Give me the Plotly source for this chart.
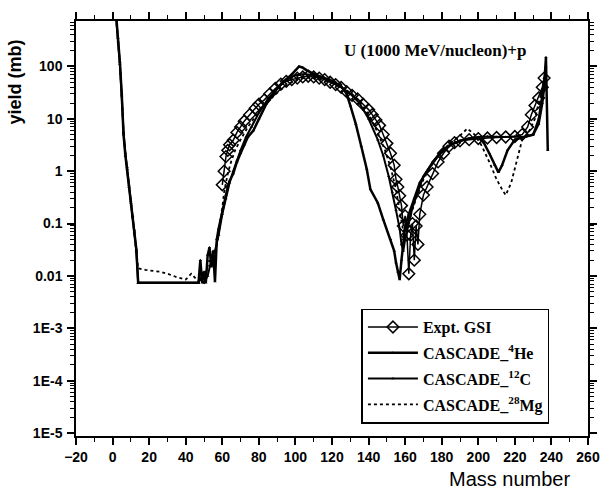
import plotly.graph_objects as go

# ---------------- data ----------------
expt_mass = [60, 61, 62, 63, 64, 66, 68, 70, 72, 75, 78, 80, 83, 86, 89, 92, 95, 98, 101, 104,
             107, 110, 113, 116, 119, 122, 125, 128, 131, 134, 137, 140, 142, 144, 146, 148,
             150, 152, 154, 155, 156, 157, 158, 159, 160, 161, 162, 163, 164, 165, 166, 167,
             168, 170, 172, 175, 178, 181, 184, 187, 190, 195, 200, 205, 210, 215, 220, 224,
             227, 229, 231, 233, 235, 236]
expt_yield = [0.55, 1.0, 1.9, 2.5, 3.2, 3.9, 5.5, 7, 9, 12, 16, 19, 23, 30, 38, 46, 52, 56, 60, 63,
              65, 63, 60, 56, 50, 45, 40, 33, 28, 24, 19, 15, 12, 9.5, 7.5, 5,
              3.4, 2.2, 1.3, 0.7, 0.5, 0.34, 0.22, 0.09, 0.14, 0.06, 0.011, 0.06, 0.1, 0.02, 0.09, 0.04,
              0.15, 0.35, 0.5, 0.9, 1.5, 2.2, 3.0, 3.5, 3.8, 4.0, 4.2, 4.3, 4.4, 4.5, 4.6, 5,
              7, 12, 18, 25, 40, 60]

he_mass = [2, 3, 4, 5, 6, 7, 8, 9, 10, 11, 12, 13, 14, 47, 48, 49, 50, 51, 52, 53, 54, 55, 56,
           57, 58, 59, 60, 61, 62, 63, 64, 66, 68, 70, 72, 74, 77, 80, 84, 89, 93, 97, 100, 102,
           104, 106, 110, 115, 120, 125, 128, 130, 133, 136, 139, 141, 145, 148, 152, 154, 155,
           156, 157, 158, 159, 160, 162, 165, 168, 172, 176, 180, 185, 190, 195, 200, 203, 206,
           209, 211, 213, 216, 220, 225, 230, 233, 235, 236, 237, 238]
he_yield = [900, 350, 120, 30, 5, 2.0, 1.1, 0.5, 0.25, 0.13, 0.07, 0.032, 0.0074, 0.0074, 0.02,
            0.0074, 0.012, 0.0074, 0.025, 0.035, 0.015, 0.03, 0.0078,
            0.05, 0.08, 0.12, 0.18, 0.25, 0.35, 0.5, 0.65, 0.9, 1.5, 2.2, 3.2, 4.5, 6, 10, 19, 34,
            50, 65, 85, 100,
            95, 85, 72, 62, 53, 42, 30, 18, 8, 3, 1.1, 0.45, 0.25, 0.12, 0.05, 0.03, 0.018,
            0.012, 0.0085, 0.02, 0.05, 0.09, 0.15, 0.3, 0.6, 1.0, 1.6, 2.3, 3.2, 3.8, 4.2, 4.4,
            3.5, 2.2, 1.3, 0.95, 1.3, 2.5, 4, 4.5, 5, 8, 20, 40, 150, 2.5]

c_mass = [2, 3, 4, 5, 6, 7, 8, 9, 10, 11, 12, 13, 14, 47, 48, 50, 52, 54, 56, 58, 60, 62, 64,
          66, 68, 70, 73, 76, 80, 85, 90, 95, 100, 105, 110, 115, 120, 125, 130, 135, 140, 145,
          148, 151, 153, 155, 157, 158, 159, 160, 162, 164, 167, 170, 175, 180, 185, 190, 195,
          200, 205, 210, 215, 220, 225, 230, 233, 235, 236, 237]
c_yield = [800, 300, 110, 28, 5.5, 2.2, 1.2, 0.55, 0.27, 0.14, 0.075, 0.03, 0.0074, 0.0074, 0.009,
           0.0074, 0.01, 0.02, 0.03, 0.06, 0.15, 0.3, 0.6,
           1.0, 1.6, 2.5, 4.5, 7, 13, 24, 38, 55, 68, 72, 68, 60, 50, 40, 30, 20, 10, 4,
           2, 0.8, 0.4, 0.18, 0.08, 0.04, 0.03, 0.05, 0.1, 0.2, 0.4, 0.8, 1.5, 2.5, 3.3, 3.8, 4.2,
           4.5, 4.6, 4.5, 4.5, 4.6, 4.5, 5, 10, 30, 60, 100]

mg_mass = [2, 3, 4, 5, 6, 7, 8, 9, 10, 11, 12, 13, 14, 18, 22, 26, 30, 35, 40, 43, 47, 49, 51,
           53, 55, 57, 59, 61, 63, 65, 67, 70, 74, 78, 82, 87, 92, 97, 102, 106, 110, 115, 120,
           125, 130, 135, 140, 145, 149, 152, 155, 157, 159, 161, 163, 166, 170, 175, 180, 185,
           190, 194, 198, 202, 206, 210, 213, 215, 218, 221, 224, 228, 231, 233, 235, 236]
mg_yield = [850, 320, 115, 29, 5.2, 2.1, 1.15, 0.52, 0.26, 0.13, 0.072, 0.03, 0.014, 0.013, 0.0125,
            0.012, 0.011, 0.0095, 0.0085, 0.011, 0.0078, 0.009, 0.012,
            0.02, 0.015, 0.04, 0.1, 0.4, 0.9, 1.6, 2.5, 4, 7, 11, 17, 25, 36, 48, 58, 62, 60, 55,
            48, 40, 32, 22, 12, 5.5, 2.5, 1.2, 0.45, 0.18, 0.07, 0.09, 0.15, 0.3, 0.7, 1.4, 2.4,
            3.5, 4.8, 6.5, 5, 3, 1.5, 0.7, 0.45, 0.35, 0.6, 1.5, 4, 6, 10, 20, 35, 50]

y_tick_vals = [1e-5, 1e-4, 1e-3, 0.01, 0.1, 1, 10, 100]
y_tick_text = ["1E-5", "1E-4", "1E-3", "0.01", "0.1", "1", "10", "100"]
x_tick_vals = list(range(-20, 261, 20))

# ---------------- figure ----------------
fig = go.Figure()

fig.add_trace(go.Scatter(
    x=expt_mass, y=expt_yield, name="Expt. GSI", mode="lines+markers",
    line=dict(color="black", width=1.5),
    marker=dict(symbol="diamond-open", size=9, color="black", line=dict(width=1.5)),
    legendgroup="a"))
fig.add_trace(go.Scatter(
    x=he_mass, y=he_yield, name="CASCADE_<sup>4</sup>He", mode="lines+markers",
    line=dict(color="black", width=2.5),
    marker=dict(symbol="triangle-up", size=3, color="black"),
    legendgroup="b"))
fig.add_trace(go.Scatter(
    x=c_mass, y=c_yield, name="CASCADE_<sup>12</sup>C", mode="lines+markers",
    line=dict(color="black", width=2.0),
    marker=dict(symbol="triangle-up", size=3, color="black"),
    legendgroup="c"))
fig.add_trace(go.Scatter(
    x=mg_mass, y=mg_yield, name="CASCADE_<sup>28</sup>Mg", mode="lines",
    line=dict(color="black", width=1.8, dash="dot"),
    legendgroup="d"))

tickfont = dict(family="Liberation Sans, Arial", size=14, color="black", weight="bold")

y_minor = []
for e in range(-5, 3):
    for m in range(2, 10):
        v = m * 10 ** e
        if v < 740:
            y_minor.append(v)

fig.update_xaxes(
    range=[-20, 260], tickvals=x_tick_vals, ticks="outside", ticklen=7, tickwidth=1.5,
    tickcolor="black", showline=True, linewidth=1.5, linecolor="black", mirror="ticks",
    showgrid=False, zeroline=False, tickfont=tickfont,
    minor=dict(dtick=10, tick0=-20, ticks="outside", ticklen=4, tickwidth=1.2, tickcolor="black"))
fig.update_yaxes(
    type="log", range=[-5.057, 2.868], tickvals=y_tick_vals, ticktext=y_tick_text,
    ticks="outside", ticklen=7, tickwidth=1.5, tickcolor="black", showline=True,
    linewidth=1.5, linecolor="black", mirror="ticks", showgrid=False, zeroline=False,
    tickfont=tickfont, ticklabelstandoff=2,
    minor=dict(tickvals=y_minor, ticks="outside", ticklen=4, tickwidth=1.2, tickcolor="black"))

fig.update_layout(
    width=612, height=492, autosize=False,
    margin=dict(l=76, r=14, t=16, b=56),
    paper_bgcolor="white", plot_bgcolor="white",
    showlegend=True,
    legend=dict(
        x=0.5575, y=0.307, xanchor="left", yanchor="top",
        bordercolor="black", borderwidth=1.5, bgcolor="white",
        font=dict(family="Liberation Serif, Times New Roman", size=16, color="black", weight="bold"),
        traceorder="grouped", tracegroupgap=2, itemwidth=50),
    annotations=[
        dict(text="U (1000 MeV/nucleon)+p", xref="x", yref="paper", x=176.5, y=0.929,
             showarrow=False, xanchor="center", yanchor="middle",
             font=dict(family="Liberation Serif, Times New Roman", size=17, color="black", weight="bold")),
        dict(text="yield (mb)", xref="paper", yref="paper", x=-0.119, y=0.852, textangle=-90,
             showarrow=False, xanchor="center", yanchor="middle",
             font=dict(family="Liberation Sans, Arial", size=18, color="black", weight="bold")),
        dict(text="Mass number", xref="paper", yref="paper", x=0.847, y=-0.104,
             showarrow=False, xanchor="center", yanchor="middle",
             font=dict(family="Liberation Sans, Arial", size=20, color="black")),
    ],
)

fig.write_html("out.html", config=dict(displayModeBar=False),
               post_script="document.body.style.margin='0';document.body.style.overflow='hidden';")
